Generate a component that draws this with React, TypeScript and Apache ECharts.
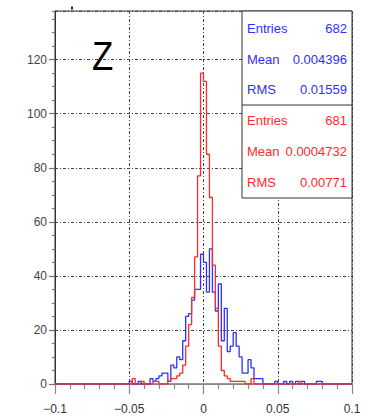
import React, { useEffect, useRef } from "react";
import * as echarts from "echarts";

// Histogram binning: 100 bins of width 0.002 from -0.1 to 0.1
const BIN_START = -0.1;
const BIN_WIDTH = 0.002;

// bin counts (index 0 = [-0.1, -0.098))
const blueCounts = [
  0, 0, 0, 0, 0, 0, 0, 0, 0, 0,
  0, 0, 0, 0, 0, 0, 0, 0, 0, 0,
  0, 0, 0, 0, 0, 1, 0, 0, 1, 0,
  0, 0, 2, 1, 2, 3, 4, 4, 1, 7,
  6, 10, 9, 16, 25, 26, 31, 35, 35, 48,
  45, 34, 50, 34, 27, 37, 16, 28, 12, 14,
  19, 14, 10, 4, 4, 9, 6, 2, 2, 2,
  0, 0, 0, 0, 1, 0, 0, 1, 0, 1,
  0, 1, 0, 1, 0, 0, 0, 0, 1, 1,
  0, 0, 0, 0, 0, 0, 0, 0, 0, 0,
];

const redCounts = [
  0, 0, 0, 0, 0, 0, 0, 0, 0, 0,
  0, 0, 0, 0, 0, 0, 0, 0, 0, 0,
  0, 0, 0, 0, 0, 0, 2, 0, 0, 1,
  0, 0, 0, 1, 1, 0, 0, 0, 1, 2,
  2, 3, 4, 7, 14, 22, 32, 47, 77, 115,
  112, 85, 69, 44, 28, 14, 5, 3, 2, 1,
  1, 1, 1, 1, 0, 0, 2, 0, 0, 0,
  0, 0, 0, 0, 0, 0, 0, 0, 0, 0,
  0, 0, 1, 0, 0, 0, 0, 0, 0, 0,
  0, 0, 0, 0, 0, 0, 0, 0, 0, 0,
];

const xTickValues = [-0.1, -0.05, 0, 0.05, 0.1];
const yTickValues = [0, 20, 40, 60, 80, 100, 120];
const Y_MAX = 138;

const blueStats = [
  ["Entries", "682"],
  ["Mean", "0.004396"],
  ["RMS", "0.01559"],
];
const redStats = [
  ["Entries", "681"],
  ["Mean", "0.0004732"],
  ["RMS", "0.00771"],
];
const panelLabel = "Z";

const BLUE = "#2f2fff";
const RED = "#ff2a2a";
const FONT = "'Liberation Sans', Arial, sans-serif";
const GRID_LINE = { color: "#444", width: 1, type: [3, 2, 1, 2] };

function toSteps(counts: number[]) {
  const pts: number[][] = [];
  counts.forEach((c, i) => {
    const a = +(BIN_START + i * BIN_WIDTH).toFixed(4);
    const b = +(BIN_START + (i + 1) * BIN_WIDTH).toFixed(4);
    pts.push([a, c], [b, c]);
  });
  return pts;
}

function fmtX(v: number) {
  const r = parseFloat(v.toFixed(4));
  if (!xTickValues.some((t) => Math.abs(t - r) < 1e-9)) return "";
  if (r === 0) return "0";
  return r < 0 ? "\u2212" + String(-r) : String(r);
}

export default function App() {
  const ref = useRef<HTMLDivElement>(null);
  useEffect(() => {
    if (!ref.current) return;
    const chart = echarts.init(ref.current, null, { renderer: "svg" });
    const boxX = 242;
    const boxTop = 11;
    const boxRight = 352;
    const statsTexts: any[] = [];
    const rowsY = [28, 59.5, 89.5, 120, 151.5, 182];
    [...blueStats.map((s) => [s, BLUE]), ...redStats.map((s) => [s, RED])].forEach(
      (entry: any, i) => {
        const [[name, val], color] = entry;
        statsTexts.push({
          type: "text",
          z: 101,
          x: boxX + 5,
          y: rowsY[i],
          style: { text: name, fill: color, font: `13px ${FONT}`, textAlign: "left", textVerticalAlign: "middle" },
        });
        statsTexts.push({
          type: "text",
          z: 101,
          x: boxRight - 5,
          y: rowsY[i],
          style: { text: val, fill: color, font: `13px ${FONT}`, textAlign: "right", textVerticalAlign: "middle" },
        });
      }
    );
    chart.setOption({
      animation: false,
      backgroundColor: "#fff",
      grid: {
        left: 55,
        right: 14,
        top: 11,
        bottom: 33,
        show: true,
        borderColor: "#333",
        borderWidth: 1,
        backgroundColor: "transparent",
      },
      xAxis: {
        type: "value",
        min: -0.1,
        max: 0.1,
        interval: 0.05,
        axisLine: { show: true, onZero: false, lineStyle: { color: "#888", width: 1 } },
        axisTick: { show: true, length: 10, lineStyle: { color: "#888", width: 1.2 } },
        minorTick: { show: true, splitNumber: 5, length: 5, lineStyle: { color: "#888", width: 1.2 } },
        axisLabel: {
          margin: 19,
          color: "#333",
          fontSize: 12,
          fontFamily: FONT,
          formatter: (v: number) => fmtX(v),
        },
        splitLine: { show: true, lineStyle: GRID_LINE },
      },
      yAxis: [
        {
          type: "value",
          min: 0,
          max: Y_MAX,
          interval: 20,
          axisLine: { show: true, onZero: false, lineStyle: { color: "#333", width: 1 } },
          axisTick: { show: true, length: 6, lineStyle: { color: "#777", width: 1.2 } },
          axisLabel: {
            margin: 8,
            color: "#444",
            fontSize: 12,
            fontFamily: FONT,
            showMaxLabel: false,
            formatter: (v: number) => (yTickValues.includes(v) ? String(v) : ""),
          },
          splitLine: { show: true, lineStyle: GRID_LINE },
        },
        {
          type: "value",
          min: 0,
          max: Y_MAX,
          interval: 5,
          position: "left",
          axisLine: { show: false, onZero: false },
          axisTick: { show: true, length: 3, lineStyle: { color: "#777", width: 1.2 } },
          axisLabel: { show: false },
          splitLine: { show: false },
        },
      ],
      series: [
        {
          type: "line",
          data: toSteps(blueCounts),
          symbol: "none",
          lineStyle: { color: BLUE, width: 1.3 },
          z: 3,
        },
        {
          type: "line",
          data: toSteps(redCounts),
          symbol: "none",
          lineStyle: { color: RED, width: 1.3 },
          z: 4,
        },
      ],
      graphic: [
        {
          type: "rect",
          z: 100,
          shape: { x: boxX, y: boxTop, width: boxRight - boxX, height: 187 },
          style: { fill: "#fff", stroke: "#333", lineWidth: 1 },
        },
        {
          type: "line",
          z: 100,
          shape: { x1: boxX, y1: 105, x2: boxRight, y2: 105 },
          style: { stroke: "#333", lineWidth: 1 },
        },
        ...statsTexts,
        {
          type: "text",
          z: 101,
          x: 92,
          y: 56,
          scaleX: 0.85,
          style: {
            text: panelLabel,
            fill: "#000",
            font: `41px ${FONT}`,
            textAlign: "left",
            textVerticalAlign: "middle",
          },
        },
        {
          type: "rect",
          z: 101,
          shape: { x: 71, y: 6.5, width: 2, height: 3 },
          style: { fill: "#222" },
        },
      ],
    });
    return () => chart.dispose();
  }, []);
  return (
    <div
      ref={ref}
      style={{ position: "absolute", left: 0, top: 0, width: 366, height: 417 }}
    />
  );
}
